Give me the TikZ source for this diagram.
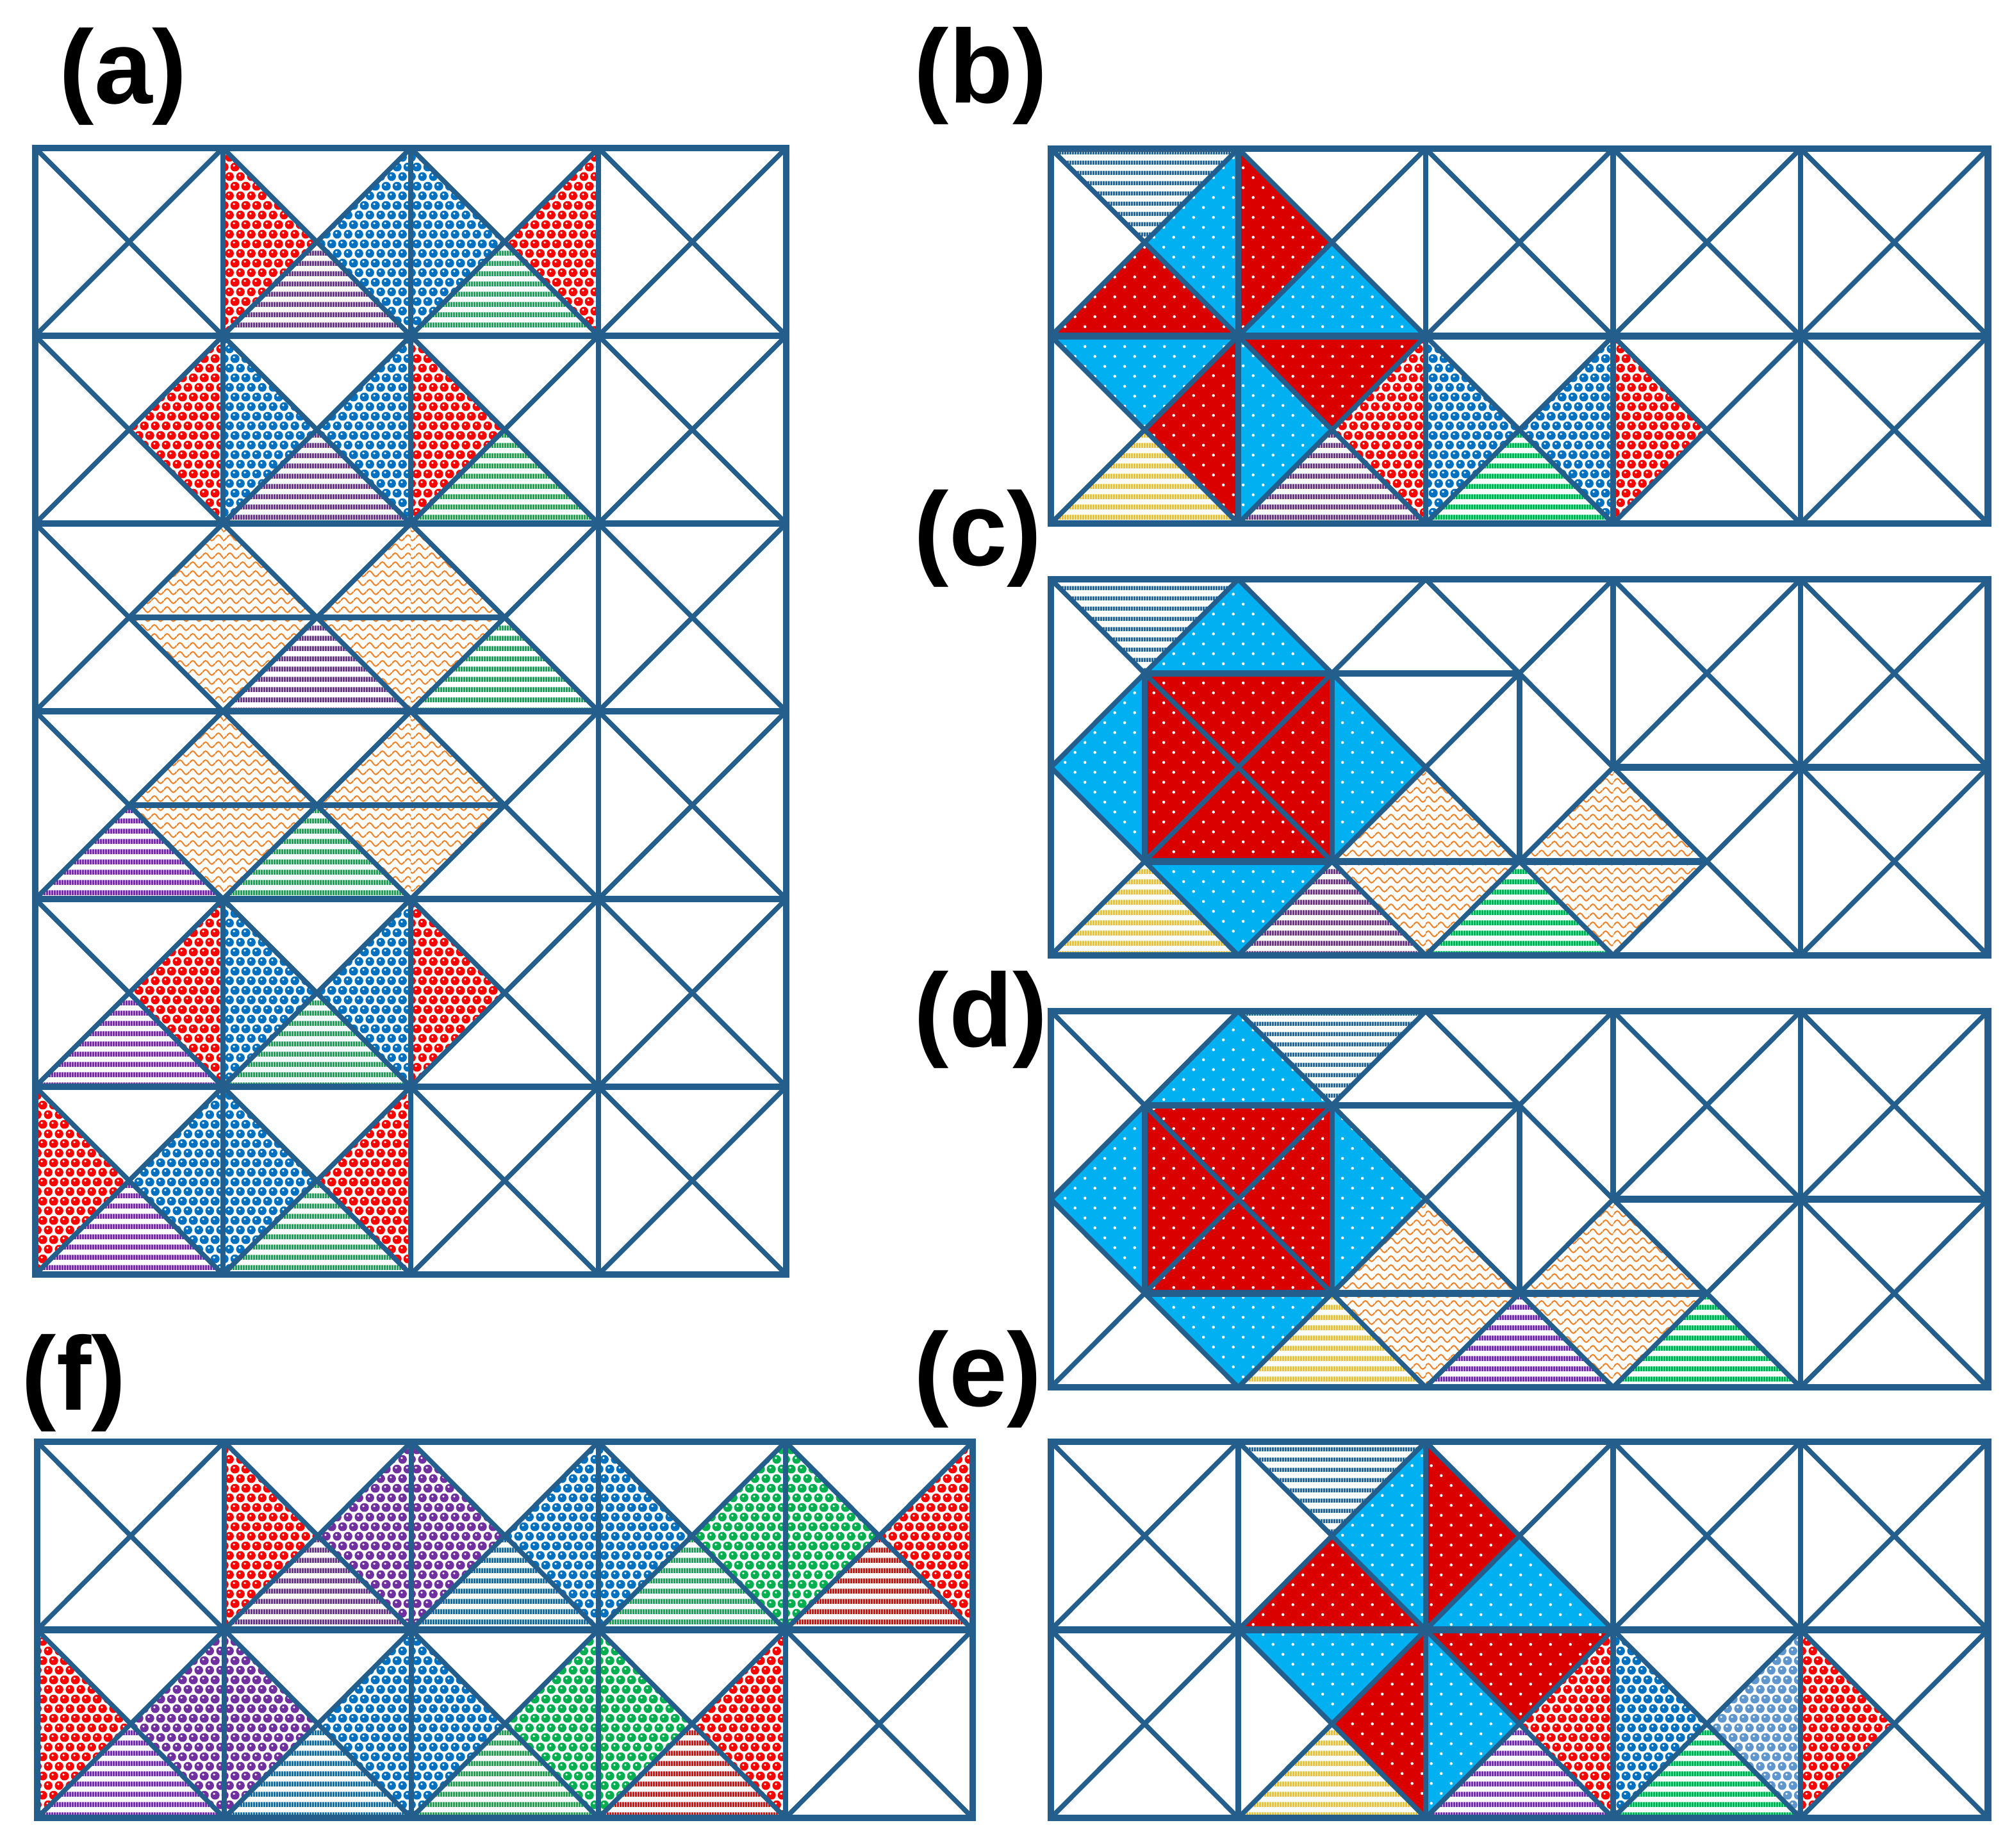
\documentclass[tikz,border=0pt]{standalone}
\usepackage{fontspec}
\setmainfont{Liberation Sans}
\usetikzlibrary{patterns.meta}

\definecolor{gridc}{RGB}{36,94,140}
\definecolor{cred}{RGB}{255,0,0}
\definecolor{cblue}{RGB}{0,112,192}
\definecolor{clblue}{RGB}{95,150,205}
\definecolor{cpurple}{RGB}{112,48,160}
\definecolor{cgreen}{RGB}{0,176,80}
\definecolor{cyellow}{RGB}{255,192,0}
\definecolor{ccyan}{RGB}{0,176,240}
\definecolor{cdred}{RGB}{218,0,0}
\definecolor{corange}{RGB}{240,130,40}
\definecolor{cstripeblue}{RGB}{20,105,180}

\tikzdeclarepattern{
  name=circs, type=uncolored,
  bounding box={(0pt,0pt) and (4.75pt,8.5pt)},
  tile size={(4.75pt,8.5pt)},
  code={
    \fill (2.375pt,2.125pt) circle (1.95pt);
    \fill (0pt,6.375pt) circle (1.95pt);
    \fill (4.75pt,6.375pt) circle (1.95pt);
  }
}
\tikzdeclarepattern{
  name=hilite, type=uncolored,
  bounding box={(0pt,0pt) and (4.75pt,8.5pt)},
  tile size={(4.75pt,8.5pt)},
  code={
    \fill (2.0pt,2.75pt) circle (0.5pt);
    \fill (-0.375pt,7.0pt) circle (0.5pt);
    \fill (4.375pt,7.0pt) circle (0.5pt);
  }
}
\tikzdeclarepattern{
  name=hstripes, type=uncolored,
  bounding box={(0pt,0pt) and (1pt,4.5pt)},
  tile size={(1pt,4.5pt)},
  code={\fill (0pt,0pt) rectangle (1pt,2.2pt);}
}
\tikzdeclarepattern{
  name=hstripesthin, type=uncolored,
  bounding box={(0pt,0pt) and (1pt,4.5pt)},
  tile size={(1pt,4.5pt)},
  code={\fill (0pt,0pt) rectangle (1pt,1.8pt);}
}
\tikzdeclarepattern{
  name=wdots, type=uncolored,
  bounding box={(0pt,0pt) and (8.8pt,8.8pt)},
  tile size={(8.8pt,8.8pt)},
  code={
    \fill (2.2pt,2.2pt) circle (0.65pt);
    \fill (6.6pt,6.6pt) circle (0.65pt);
  }
}
\tikzdeclarepattern{
  name=waves, type=uncolored,
  bounding box={(0pt,0pt) and (5.6pt,4pt)},
  tile size={(5.6pt,4pt)},
  code={
    \draw[line width=0.6pt] (0pt,2pt) sin (1.4pt,3.3pt) cos (2.8pt,2pt) sin (4.2pt,0.7pt) cos (5.6pt,2pt);
  }
}

\tikzset{
  redc/.style={pattern=circs, pattern color=cred, postaction={pattern=hilite, pattern color=white}},
  bluec/.style={pattern=circs, pattern color=cblue, postaction={pattern=hilite, pattern color=white}},
  lbluec/.style={pattern=circs, pattern color=clblue, postaction={pattern=hilite, pattern color=white}},
  purc/.style={pattern=circs, pattern color=cpurple, postaction={pattern=hilite, pattern color=white}},
  grnc/.style={pattern=circs, pattern color=cgreen, postaction={pattern=hilite, pattern color=white}},
  purs/.style={pattern=hstripes, pattern color=cpurple},
  grns/.style={pattern=hstripes, pattern color=cgreen},
  yels/.style={pattern=hstripes, pattern color=cyellow},
  reds/.style={pattern=hstripes, pattern color=cred},
  blus/.style={pattern=hstripesthin, pattern color=cstripeblue},
  bluesf/.style={pattern=hstripes, pattern color=cblue},
  cyand/.style={fill=ccyan, postaction={pattern=wdots, pattern color=white}},
  dredd/.style={fill=cdred, postaction={pattern=wdots, pattern color=white}},
  wav/.style={pattern=waves, pattern color=corange},
  gl/.style={draw=gridc, line width=0.075cm},
  vl/.style={draw=gridc, line width=0.085cm},
  hl/.style={draw=gridc, line width=0.105cm},
  fr/.style={draw=gridc, line width=0.105cm},
  lab/.style={inner sep=0pt, anchor=base west, font=\fontsize{46.4pt}{50pt}\selectfont\bfseries},
}

\newcommand\TriTop[3]{\path[#1] (#2,#3) -- ++(1,0) -- ++(-0.5,0.5) -- cycle;}
\newcommand\TriBot[3]{\path[#1] (#2,#3+1) -- ++(1,0) -- ++(-0.5,-0.5) -- cycle;}
\newcommand\TriLeft[3]{\path[#1] (#2,#3) -- ++(0,1) -- ++(0.5,-0.5) -- cycle;}
\newcommand\TriRight[3]{\path[#1] (#2+1,#3) -- ++(0,1) -- ++(-0.5,-0.5) -- cycle;}
\newcommand\PanelDiag[2]{\foreach \ci in {0,...,#1}{\foreach \cj in {0,...,#2}{%
  \draw[gl] (\ci,\cj) -- ++(1,1); \draw[gl] (\ci+1,\cj) -- ++(-1,1);}}}
\newcommand\RegFive{%
  \PanelDiag{4}{1}
  \draw[vl] (1,0) -- (1,2) (2,0) -- (2,2) (3,0) -- (3,2) (4,0) -- (4,2);
  \draw[hl] (0,1) -- (5,1);
  \draw[fr] (0,0) rectangle (5,2);}
\newcommand\OddFive{%
  \PanelDiag{4}{1}
  \draw[hl] (0.5,0.5) -- (2.5,0.5) (3,1) -- (5,1) (0.5,1.5) -- (3.5,1.5);
  \draw[vl] (0.5,0.5) -- (0.5,1.5) (1.5,0.5) -- (1.5,1.5) (2.5,0.5) -- (2.5,1.5) (3,0) -- (3,1) (4,0) -- (4,2);
  \draw[fr] (0,0) rectangle (5,2);}
\newcommand\CyanRing{%
  \path[cyand] (0.5,0.5) -- (1,0) -- (1.5,0.5) -- cycle;
  \path[cyand] (0.5,0.5) -- (0,1) -- (0.5,1.5) -- cycle;
  \path[cyand] (1.5,0.5) -- (2,1) -- (1.5,1.5) -- cycle;
  \path[cyand] (0.5,1.5) -- (1,2) -- (1.5,1.5) -- cycle;
  \path[dredd] (0.5,0.5) rectangle (1.5,1.5);}

\begin{document}
\begin{tikzpicture}
\useasboundingbox (0,0) rectangle (31.4,-28.83);
\fill[white] (0,0) rectangle (31.4,-28.83);

% labels
\node[lab] (la) at (0.92,-1.61) {(a)};
\node[lab] (lb) at (14.26,-1.60) {(b)};
\node[lab] (lc) at (14.26,-8.82) {(c)};
\node[lab] (ld) at (14.26,-16.33) {(d)};
\node[lab] (le) at (14.26,-21.94) {(e)};
\node[lab] (lf) at (0.33,-22.00) {(f)};

% ---------------- panel (a)
\begin{scope}[shift={(0.55cm,-2.31cm)}, x=2.93cm, y=-2.93cm]
\TriLeft{redc}{1}{0} \TriRight{bluec}{1}{0} \TriLeft{bluec}{2}{0} \TriBot{purs}{1}{0} \TriBot{grns}{2}{0} \TriRight{redc}{2}{0}
\TriRight{redc}{0}{1} \TriLeft{bluec}{1}{1} \TriBot{purs}{1}{1} \TriRight{bluec}{1}{1} \TriLeft{redc}{2}{1} \TriBot{grns}{2}{1}
\TriRight{wav}{0}{2} \TriLeft{wav}{1}{2} \TriRight{wav}{1}{2} \TriLeft{wav}{2}{2} \TriBot{purs}{1}{2} \TriBot{grns}{2}{2}
\TriRight{wav}{0}{3} \TriLeft{wav}{1}{3} \TriRight{wav}{1}{3} \TriLeft{wav}{2}{3} \TriBot{purs}{0}{3} \TriBot{grns}{1}{3}
\TriRight{redc}{0}{4} \TriBot{purs}{0}{4} \TriLeft{bluec}{1}{4} \TriBot{grns}{1}{4} \TriRight{bluec}{1}{4} \TriLeft{redc}{2}{4}
\TriLeft{redc}{0}{5} \TriBot{purs}{0}{5} \TriRight{bluec}{0}{5} \TriLeft{bluec}{1}{5} \TriBot{grns}{1}{5} \TriRight{redc}{1}{5}
\PanelDiag{3}{5}
\draw[vl] (1,0) -- (1,2) (1,4) -- (1,6) (2,0) -- (2,2) (2,4) -- (2,6) (3,0) -- (3,6);
\draw[hl] (0,1) -- (4,1) (0,2) -- (4,2) (0,3) -- (4,3) (0,4) -- (4,4) (0,5) -- (4,5);
\draw[vl] (0.5,2.5) -- (2.5,2.5) (0.5,3.5) -- (2.5,3.5);
\draw[fr] (0,0) rectangle (4,6);
\end{scope}

% ---------------- panel (b)
\begin{scope}[shift={(16.40cm,-2.32cm)}, x=2.925cm, y=-2.925cm]
\TriTop{blus}{0}{0} \TriRight{cyand}{0}{0} \TriBot{dredd}{0}{0} \TriLeft{dredd}{1}{0} \TriBot{cyand}{1}{0}
\TriTop{cyand}{0}{1} \TriRight{dredd}{0}{1} \TriBot{yels}{0}{1} \TriLeft{cyand}{1}{1} \TriTop{dredd}{1}{1}
\TriBot{purs}{1}{1} \TriRight{redc}{1}{1} \TriLeft{bluec}{2}{1} \TriBot{grns}{2}{1} \TriRight{bluec}{2}{1} \TriLeft{redc}{3}{1}
\RegFive
\end{scope}

% ---------------- panel (c)
\begin{scope}[shift={(16.40cm,-9.04cm)}, x=2.925cm, y=-2.935cm]
\TriTop{blus}{0}{0}
\CyanRing
\TriBot{yels}{0}{1} \TriBot{purs}{1}{1} \TriBot{grns}{2}{1}
\TriRight{wav}{1}{1} \TriLeft{wav}{2}{1} \TriRight{wav}{2}{1} \TriLeft{wav}{3}{1}
\OddFive
\end{scope}

% ---------------- panel (d)
\begin{scope}[shift={(16.40cm,-15.78cm)}, x=2.925cm, y=-2.935cm]
\TriTop{blus}{1}{0}
\CyanRing
\TriBot{yels}{1}{1} \TriBot{purs}{2}{1} \TriBot{grns}{3}{1}
\TriRight{wav}{1}{1} \TriLeft{wav}{2}{1} \TriRight{wav}{2}{1} \TriLeft{wav}{3}{1}
\OddFive
\end{scope}

% ---------------- panel (e)
\begin{scope}[shift={(16.40cm,-22.50cm)}, x=2.925cm, y=-2.935cm]
\TriTop{blus}{1}{0} \TriRight{cyand}{1}{0} \TriBot{dredd}{1}{0} \TriLeft{dredd}{2}{0} \TriBot{cyand}{2}{0}
\TriTop{cyand}{1}{1} \TriRight{dredd}{1}{1} \TriBot{yels}{1}{1} \TriLeft{cyand}{2}{1} \TriTop{dredd}{2}{1}
\TriBot{purs}{2}{1} \TriRight{redc}{2}{1} \TriLeft{bluec}{3}{1} \TriBot{grns}{3}{1} \TriRight{lbluec}{3}{1} \TriLeft{redc}{4}{1}
\RegFive
\end{scope}

% ---------------- panel (f)
\begin{scope}[shift={(0.58cm,-22.50cm)}, x=2.92cm, y=-2.935cm]
\TriLeft{redc}{1}{0} \TriBot{purs}{1}{0} \TriRight{purc}{1}{0} \TriLeft{purc}{2}{0} \TriBot{bluesf}{2}{0} \TriRight{bluec}{2}{0}
\TriLeft{bluec}{3}{0} \TriBot{grns}{3}{0} \TriRight{grnc}{3}{0} \TriLeft{grnc}{4}{0} \TriBot{reds}{4}{0} \TriRight{redc}{4}{0}
\TriLeft{redc}{0}{1} \TriBot{purs}{0}{1} \TriRight{purc}{0}{1} \TriLeft{purc}{1}{1} \TriBot{bluesf}{1}{1} \TriRight{bluec}{1}{1}
\TriLeft{bluec}{2}{1} \TriBot{grns}{2}{1} \TriRight{grnc}{2}{1} \TriLeft{grnc}{3}{1} \TriBot{reds}{3}{1} \TriRight{redc}{3}{1}
\RegFive
\end{scope}
\end{tikzpicture}
\end{document}
